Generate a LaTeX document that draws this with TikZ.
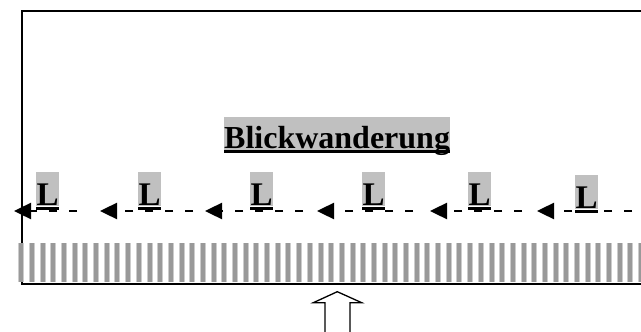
\documentclass[tikz,border=0pt]{standalone}
\usepackage{fontspec}
\setmainfont{Liberation Serif}
\usetikzlibrary{arrows.meta}
\definecolor{hl}{HTML}{C0C0C0}
\definecolor{stripelight}{HTML}{CCCCCC}
\definecolor{stripedark}{HTML}{999999}
\tikzset{
  lbl/.style={fill=hl, inner xsep=0.5pt, inner ysep=0pt, anchor=base west,
    font=\fontsize{33}{33}\selectfont\bfseries, text height=33pt, text depth=0.5pt},
  title/.style={fill=hl, inner xsep=0pt, inner ysep=0pt, anchor=base west,
    font=\fontsize{32}{32}\selectfont\bfseries, text height=31.5pt, text depth=1.5pt},
  uline/.style={line width=3pt},
  frame/.style={line width=1.6pt},
  flow/.style={line width=2.4pt, dash pattern=on 8pt off 12pt,
    -{Triangle[length=17pt,width=16pt]}},
  blockarrow/.style={line width=1.3pt, fill=white, line join=miter}
}
\begin{document}
\begin{tikzpicture}[x=1pt,y=-1pt]
\useasboundingbox (0,0) rectangle (641,332);
% frame
\draw[frame] (660,11) -- (22,11) -- (22,284) -- (660,284);
% stripes
\foreach \k in {-1,...,58}{
  \pgfmathsetmacro{\xs}{29+\k*10.686}
  \fill[stripelight] (\xs,243) rectangle ++(6,39);
  \fill[stripedark] (\xs+1,243) rectangle ++(4,39);
}
% title
\node[title] (title) at (224,148) {Blickwanderung};
\draw[uline] ([yshift=-3.5pt]title.base west) -- ([yshift=-3.5pt]title.base east);
% L labels
\foreach \n/\x/\y in {1/36/205,2/138/205,3/250/205,4/362/205,5/468/205,6/575/208}{
  \node[lbl] (L\n) at (\x,\y) {L};
  \draw[uline] ([yshift=-3pt]L\n.base west) -- ([yshift=-3pt]L\n.base east);
}
% dashed arrows
\foreach \n/\ta/\tb in {1/77/14,2/193/100,3/303/205,4/413/317,5/522/430,6/652/537}{
  \coordinate (t\n) at (\ta,211);
  \coordinate (h\n) at (\tb,211);
  \draw[flow] (t\n) -- (h\n);
}
% block arrow
\draw[blockarrow] (337.3,291.7) -- (361.7,302.7) -- (350,302.7) -- (350,336)
  -- (325,336) -- (325,302.7) -- (313.3,302.7) -- cycle;
\end{tikzpicture}
\end{document}
